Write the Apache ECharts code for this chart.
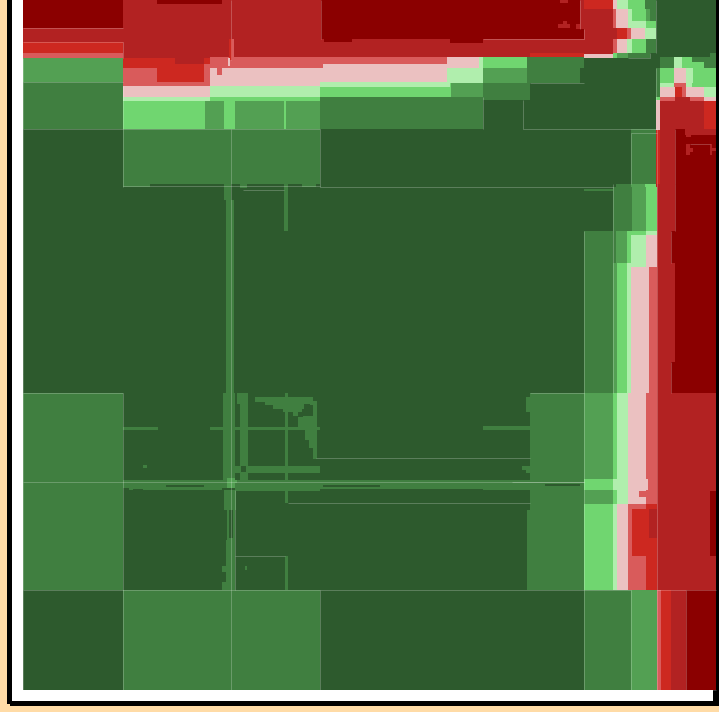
<!DOCTYPE html>
<html><head><meta charset="utf-8">
<style>html,body{margin:0;padding:0;background:#FFDBA6;overflow:hidden}#c{width:719px;height:712px}</style>
<script src="https://cdn.jsdelivr.net/npm/echarts@6/dist/echarts.min.js"></script>
</head><body><div id="c"></div>
<script>
// Ten ordered levels of the matrix, dark green to dark red
const levelColors = ['#2D5A2D','#407F40','#53A053','#70D670','#B0EEAD','#EBC1C1','#D95B5B','#CD2820','#B22222','#8B0000'];
// Each cell: [xStart, xEnd, yStart, yEnd, level], later cells paint over earlier ones
const baseCells = [[23,716,0,690,0]];
const leftColumn = [
 [23,123,0,28,9],[23,123,28,42,8],[23,123,42,53,7],[23,123,53,58,6],[23,123,58,82,2],[23,123,82,129,1],
 [23,123,393,590,1]];
const topBand = [
 [123,613,0,58,8],[157,222,0,4,9],[321,580,0,39,9],[324,352,39,42,9],[450,483,39,43,9],[580,584,29,39,9],
 [558,570,24,28,8],[563,567,21,24,8],[576,580,24,29,8],[560,568,0,3,8],
 [584,613,0,9,7],[530,584,53,58,7],[584,613,54,58,5],[613,617,54,58,3],[617,628,54,58,2],
 [123,175,58,68,7],[175,204,58,64,8],[157,205,64,82,7],[123,157,68,86,6],[157,210,82,86,6],[204,210,58,64,7],[204,210,64,82,6],
 [210,320,57,68,6],[217,222,68,75,6],[210,217,68,86,5],[222,320,68,86,5],[217,222,75,86,5],
 [320,447,57,64,6],[323,447,64,82,5],[320,323,64,68,6],[320,323,68,82,5],
 [123,210,86,97,5],[123,210,97,101,4],[210,320,86,97,4],[320,450,82,87,4],[320,451,87,97,3],
 [447,479,57,68,5],[440,447,68,82,5],[447,479,68,83,4],[440,450,82,87,4],[450,479,83,87,3],
 [479,483,57,83,4],[451,483,87,97,2],[451,483,83,87,2],
 [483,527,57,68,3],[483,527,68,83,2],[483,527,83,100,1],[527,584,57,68,1],[527,580,68,83,1],[523,530,83,100,1],
 [123,205,101,129,3],[205,224,101,129,2],[210,224,97,101,3],[224,235,97,129,3],[235,284,97,101,3],[235,284,101,129,2],
 [284,286,97,129,3],[286,320,97,101,3],[286,320,101,129,2],[320,483,97,129,1],
 [229,232,39,60,7],[232,234,39,57,6],[228,230,58,66,5]];
const topRightBlock = [
 [613,656,0,58,1],[613,617,0,9,5],[617,628,0,9,4],[628,645,0,9,3],
 [613,616,9,39,6],[616,628,9,28,5],[628,632,9,39,4],[632,646,9,21,3],[646,650,9,21,2],
 [632,646,21,28,4],[646,656,21,39,3],
 [617,627,28,39,7],[613,617,28,39,8],[627,631,28,39,6],[631,645,28,39,5],[645,656,28,39,4],
 [613,617,39,53,6],[617,627,39,53,5],[627,632,39,53,4],[632,646,39,53,3],
 [613,617,53,58,3],[617,628,53,58,2],[628,650,53,58,1],[650,656,53,58,0]];
const rightTopBlock = [
 [656,716,0,57,0],[710,716,53,58,1],
 [660,716,57,101,1],[674,682,57,68,4],[682,692,57,68,3],[692,704,62,68,3],
 [656,660,68,97,1],[660,674,68,83,3],[674,686,68,83,5],[686,693,68,83,4],[693,716,68,83,3],
 [660,674,83,87,4],[674,686,83,87,6],[686,692,83,87,4],[692,716,83,87,3],
 [660,675,87,97,5],[675,682,87,97,7],[682,686,87,97,6],[686,704,87,97,5],[704,716,87,97,4],
 [656,660,97,101,3],[660,675,97,101,6],[675,690,97,101,8],[690,704,97,101,6],[704,716,97,101,5],
 [660,716,101,129,8],[704,716,101,129,7],[656,660,100,130,5],[656,660,130,184,7]];
const rightStrip = [
 [660,716,129,690,9],[660,675,129,184,8],[685,716,129,135,8],[686,691,135,137,8],[686,690,144,155,8],[690,693,148,152,8],[710,716,148,151,8],[710,712,144,155,8],
 [660,675,184,231,8],[660,671,231,263,8],[660,675,263,362,8],[660,671,362,393,8],[656,660,184,393,8],
 [631,656,129,184,1],
 [616,631,184,187,1],[631,645,184,187,2],[645,656,184,187,3],[613,632,187,231,1],[632,646,187,231,2],[646,657,187,231,3],
 [584,616,231,393,1],[616,627,231,263,2],[627,631,231,263,3],[631,646,231,235,3],[646,657,231,235,4],[631,646,235,267,4],[646,657,235,267,5],
 [613,617,263,393,2],[617,627,263,393,3],[627,631,263,393,4],[631,649,267,393,5],[649,657,267,393,6],
 [530,584,393,590,1],[526,530,397,412,1],[526,530,466,473,1],[522,526,466,470,1],[527,530,510,590,1],
 [584,613,393,479,2],[613,617,393,479,3],[617,628,393,479,4],[628,646,393,479,5],[646,657,393,479,6],[657,716,393,590,8],
 [584,613,479,490,3],[613,628,479,490,4],[628,648,479,490,5],[648,657,479,490,6],
 [584,613,490,504,2],[613,617,490,504,3],[617,628,490,504,4],[628,646,490,504,5],[639,646,491,497,6],[646,657,490,504,6],
 [584,613,504,590,3],[613,617,504,590,4],[617,628,504,590,5],[628,632,504,590,6],[631,646,504,509,6],[646,657,504,509,7],
 [632,646,509,556,7],[632,646,556,590,6],[646,657,509,590,7],[649,657,509,538,8],[710,716,491,556,9]];
const bottomRow = [
 [123,320,590,690,1],[584,631,590,690,1],[631,657,590,690,2],[657,661,590,690,6],[661,671,590,690,7],[671,686,590,690,8],[686,716,590,690,9]];
const centreLattice = [
 [123,320,129,184,1],[123,150,184,187,1],[240,247,184,188,1],[302,316,184,187,1],[224,231,184,200,1],[226,234,200,393,1],[284,288,184,231,1],
 [223,235,393,480,1],[237,248,393,404,1],[240,248,404,480,1],[285,288,393,503,1],
 [123,158,427,430,1],[210,224,427,430,1],[235,320,427,430,1],[483,530,426,430,1],
 [235,320,466,473,1],[123,584,480,488,1],[235,320,488,491,1],[320,483,488,489,1],[483,530,488,490,1],[129,222,488,490,1],
 [166,204,485,487,0],[323,380,485,487,0],[133,143,489,490,0],[545,580,484,486,0],
 [255,313,397,402,1],[265,313,402,405,1],[273,307,405,409,1],[283,302,409,412,1],[293,303,412,416,1],[298,316,416,430,1],[305,316,430,440,1],[309,316,440,448,1],[313,316,448,459,1],[313,317,401,459,1],
 [304,310,404,410,0],[298,303,412,417,0],[241,246,466,472,0],[234,237,480,483,2],
 [224,236,490,510,1],[227,229,510,540,1],[233,235,510,540,1],[227,235,538,540,1],[226,235,540,590,1],[222,235,566,572,1],[222,235,582,590,1],
 [285,288,556,590,1],[143,147,465,468,1],[245,247,566,570,1],[227,235,478,488,2],
 [584,613,189,191,1]];
// Thin lighter borders between regions: [xStart, xEnd, yStart, yEnd]
const seamLines = [
 [23,123,28,28],[23,123,42,42],[123,123,42,58],[23,23,58,690],[23,123,82,82],[123,123,86,187],[23,320,129,129],
 [23,123,393,393],[123,123,393,690],[23,584,482,482],[23,584,590,590],[23,716,690,690],
 [231,231,0,60],[231,231,129,590],[231,231,590,690],[320,320,129,187],[320,320,590,690],[321,321,0,39],
 [320,613,187,187],[243,284,190,190],[123,320,186,186],[316,530,458,458],[288,530,503,503],[235,285,556,556],[235,235,490,590],
 [584,584,231,690],[613,613,184,393],[584,631,590,590],[631,631,590,690],[657,657,129,690],[686,686,590,690],[657,716,590,590],
 [523,523,100,129],[523,657,129,129],[483,483,97,129],[530,584,83,83],[675,675,184,231],[675,675,129,184],[631,631,133,184],[631,657,133,133],
 [628,650,58,58],[650,650,53,58],[656,656,0,53],[656,656,68,100],[671,671,231,263],[671,671,362,393],[530,584,393,393],
 [483,584,39,39],[584,584,29,39],[580,580,0,29],[690,710,144,144],[512,584,482,482]];

const cells = [].concat(baseCells, leftColumn, topBand, topRightBlock, rightTopBlock, rightStrip, bottomRow, centreLattice);

const chart = echarts.init(document.getElementById('c'), null, {renderer:'canvas'});
chart.setOption({
  animation:false,
  backgroundColor:'#FFDBA6',
  grid:{left:23, top:0, width:693, height:690, containLabel:false},
  xAxis:{type:'value', min:23, max:716, show:false},
  yAxis:{type:'value', min:0, max:690, inverse:true, show:false},
  graphic:[
    {type:'rect', z:0, shape:{x:10,y:0,width:709,height:706}, style:{fill:'#000'}},
    {type:'rect', z:0, shape:{x:7,y:0,width:5,height:704}, style:{fill:'#000'}},
    {type:'rect', z:0, shape:{x:716,y:706,width:3,height:6}, style:{fill:'#FFDBA6'}},
    {type:'rect', z:1, shape:{x:12,y:0,width:701,height:701}, style:{fill:'#fff'}}
  ],
  series:[
    {type:'custom', coordinateSystem:'cartesian2d', data:cells, z:5, silent:true,
     encode:{x:[0,1], y:[2,3]}, progressive:0,
     renderItem(params, api){
       const a = api.coord([api.value(0), api.value(2)]);
       const b = api.coord([api.value(1), api.value(3)]);
       return {type:'rect', shape:{x:a[0], y:a[1], width:b[0]-a[0], height:b[1]-a[1]},
               style:{fill:levelColors[api.value(4)]}};
     }},
    {type:'custom', coordinateSystem:'cartesian2d', data:seamLines, z:6, silent:true, clip:false,
     encode:{x:[0,1], y:[2,3]}, progressive:0,
     renderItem(params, api){
       const a = api.coord([api.value(0), api.value(2)]);
       const b = api.coord([api.value(1), api.value(3)]);
       return {type:'line', shape:{x1:a[0]+.5, y1:a[1]+.5, x2:b[0]+.5, y2:b[1]+.5},
               style:{stroke:'rgba(255,255,255,0.22)', lineWidth:1}};
     }}
  ]
});
</script></body></html>
